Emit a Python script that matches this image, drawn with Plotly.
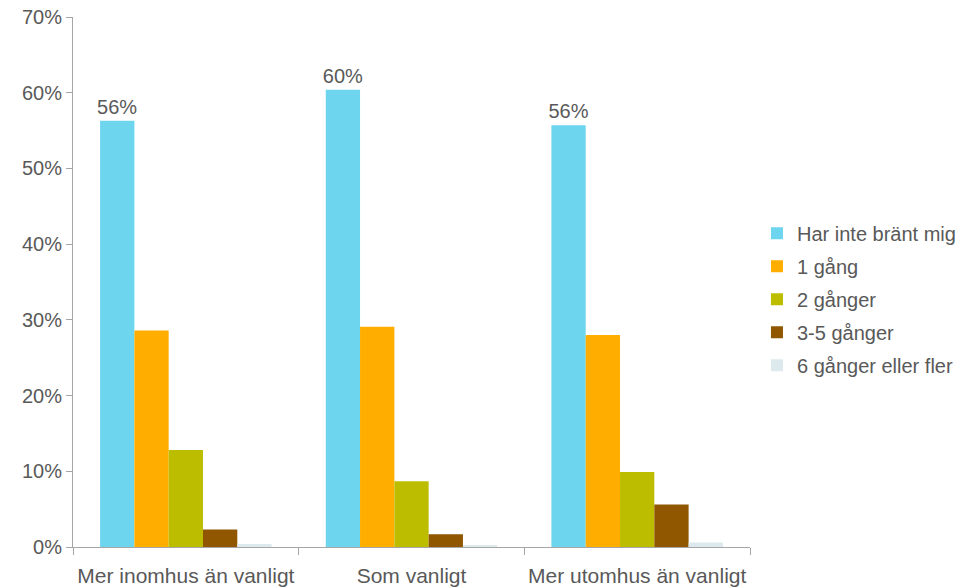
import plotly.graph_objects as go

categories = ["Mer inomhus än vanligt", "Som vanligt", "Mer utomhus än vanligt"]
series_names = ["Har inte bränt mig", "1 gång", "2 gånger", "3-5 gånger", "6 gånger eller fler"]
har_inte = [56.3, 60.4, 55.7]
en_gang = [28.6, 29.1, 28.0]
tva_ganger = [12.8, 8.7, 9.9]
tre_fem = [2.3, 1.7, 5.6]
sex_plus = [0.4, 0.15, 0.6]
colors = ["#6DD5EE", "#FFAE00", "#BDBD00", "#905600", "#DCEAEE"]

series_values = [har_inte, en_gang, tva_ganger, tre_fem, sex_plus]

fig = go.Figure()
for i, (name, vals, col) in enumerate(zip(series_names, series_values, colors)):
    fig.add_trace(go.Bar(
        x=categories, y=vals, name=name, legendgroup=name,
        marker=dict(color=col, line=dict(width=0)),
        text=vals if i == 0 else None,
        texttemplate="%{y:.0f}%" if i == 0 else None,
        textposition="outside" if i == 0 else None,
        textfont=dict(size=20, color="#595959"),
        cliponaxis=False,
    ))

font = "Liberation Sans, Arial, sans-serif"
fig.update_layout(
    width=968, height=587,
    margin=dict(l=73, r=218, t=17, b=40),
    plot_bgcolor="white", paper_bgcolor="white",
    barmode="group", bargap=0.24, bargroupgap=0,
    font=dict(family=font, size=20, color="#595959"),
    showlegend=True,
    uniformtext=dict(minsize=20, mode="show"),
    legend=dict(xref="container", yref="container",
                x=0.782, xanchor="left", y=0.49, yanchor="middle",
                font=dict(size=20, color="#595959"),
                traceorder="grouped", tracegroupgap=4, itemwidth=30),
    xaxis=dict(showline=True, linecolor="#a6a6a6", linewidth=1,
               ticks="outside", tickson="boundaries", ticklen=7,
               tickcolor="#a6a6a6", tickfont=dict(size=21, color="#595959"),
               ticklabelstandoff=10,
               tickangle=0, automargin=False, showgrid=False),
    yaxis=dict(range=[0, 70], dtick=10, ticksuffix="%",
               showline=True, linecolor="#a6a6a6", linewidth=1,
               ticks="outside", ticklen=6, tickcolor="#a6a6a6",
               showgrid=False, zeroline=False, automargin=False,
               tickfont=dict(size=20, color="#595959")),
)

fig.write_html("out.html")
